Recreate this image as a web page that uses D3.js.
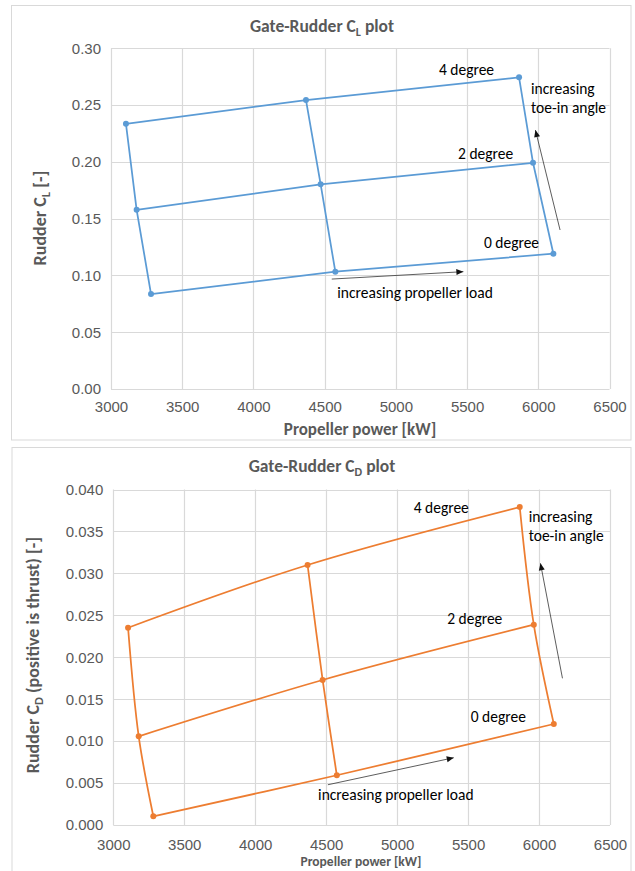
<!DOCTYPE html>
<html>
<head>
<meta charset="utf-8">
<script src="https://cdn.jsdelivr.net/npm/d3@7"></script>
<style>
  body { margin: 0; background: #fff; }
  svg { font-family: Carlito, Calibri, Lato, sans-serif; }
</style>
</head>
<body>
<div id="my_dataviz"></div>
<script>
'use strict';

// rows = toe-in angle (0, 2, 4 degree), columns = propeller load (low, mid, high)
const degreeLabels = ["0 degree", "2 degree", "4 degree"];
const powerTicks = [3000, 3500, 4000, 4500, 5000, 5500, 6000, 6500];

const clPower = [[3281, 4575, 6106], [3180, 4472, 5963], [3105, 4369, 5865]];
const clValue = [[0.0836, 0.1033, 0.1191], [0.1578, 0.1802, 0.1992], [0.2335, 0.2544, 0.2744]];
const clTicks = [0, 0.05, 0.10, 0.15, 0.20, 0.25, 0.30];

const cdPower = [[3282, 4575, 6104], [3179, 4475, 5963], [3104, 4369, 5864]];
const cdValue = [[0.00104, 0.00593, 0.01204], [0.01057, 0.01729, 0.02388], [0.02352, 0.0310, 0.0379]];
const cdTicks = [0, 0.005, 0.010, 0.015, 0.020, 0.025, 0.030, 0.035, 0.040];

var svg = d3.select("#my_dataviz")
  .append("svg")
    .attr("width", 635)
    .attr("height", 871);

var textColor = "#595959";
var gridColor = "#d9d9d9";
var noteSize = "15.5px";

function drawChart(c) {
  // outer chart frame
  svg.append("rect")
    .attr("x", c.frame[0]).attr("y", c.frame[1])
    .attr("width", c.frame[2]).attr("height", c.frame[3])
    .attr("fill", "#fff").attr("stroke", gridColor).attr("stroke-width", 1);

  var x = d3.scaleLinear().domain([3000, 6500]).range([c.left, c.right]);
  var y = d3.scaleLinear().domain([0, c.yMax]).range([c.bottom, c.top]);

  var g = svg.append("g");

  // grid
  g.selectAll(".vgrid").data(powerTicks).enter().append("line")
    .attr("x1", d => Math.round(x(d)) + 0.5).attr("x2", d => Math.round(x(d)) + 0.5)
    .attr("y1", c.top).attr("y2", c.bottom)
    .attr("stroke", gridColor).attr("stroke-width", 1.2);
  g.selectAll(".hgrid").data(c.yTicks).enter().append("line")
    .attr("x1", c.left).attr("x2", c.right)
    .attr("y1", d => Math.round(y(d)) + 0.5).attr("y2", d => Math.round(y(d)) + 0.5)
    .attr("stroke", gridColor).attr("stroke-width", 1.2);

  // axes (labels only, Excel style)
  var xAxis = g.append("g")
    .attr("transform", "translate(0," + c.bottom + ")")
    .call(d3.axisBottom(x).tickValues(powerTicks).tickSize(0).tickPadding(c.xPad).tickFormat(d3.format("d")));
  var yAxis = g.append("g")
    .attr("transform", "translate(" + c.left + ",0)")
    .call(d3.axisLeft(y).tickValues(c.yTicks).tickSize(0).tickPadding(c.yPad).tickFormat(d3.format(c.yFormat)));
  [xAxis, yAxis].forEach(a => {
    a.select(".domain").remove();
    a.selectAll("text").attr("fill", textColor).style("font-size", "15px");
  });

  // title
  var title = svg.append("text")
    .attr("x", c.titlePos[0]).attr("y", c.titlePos[1])
    .attr("text-anchor", "middle")
    .attr("fill", textColor).style("font-size", "17.5px").style("font-weight", "bold");
  title.append("tspan").text("Gate-Rudder C");
  title.append("tspan").attr("dy", 4).style("font-size", "12px").text(c.sub);
  title.append("tspan").attr("dy", -4).text(" plot");

  // axis titles
  svg.append("text")
    .attr("x", c.xLabelPos[0]).attr("y", c.xLabelPos[1])
    .attr("text-anchor", "middle").attr("fill", textColor)
    .style("font-size", c.xLabelSize).style("font-weight", "bold")
    .text("Propeller power [kW]");

  var yl = svg.append("text")
    .attr("transform", "translate(" + c.yLabelPos[0] + "," + c.yLabelPos[1] + ") rotate(-90)")
    .attr("text-anchor", "middle").attr("fill", textColor)
    .style("font-size", "18px").style("font-weight", "bold");
  yl.append("tspan").text("Rudder C");
  yl.append("tspan").attr("dy", 4).style("font-size", "12.5px").text(c.sub);
  yl.append("tspan").attr("dy", -4).text(c.yLabelRest);

  // series lines: one per toe-in angle, one per load
  var line = d3.line().x(d => x(d[0])).y(d => y(d[1])).curve(c.curve);
  var rows = c.power.map((r, i) => r.map((p, j) => [p, c.value[i][j]]));
  var cols = c.power[0].map((_, j) => c.power.map((r, i) => [r[j], c.value[i][j]]));

  g.selectAll(".series").data(rows.concat(cols)).enter().append("path")
    .attr("d", line)
    .attr("fill", "none").attr("stroke", c.color).attr("stroke-width", 1.75);

  g.selectAll(".pt").data(rows.flat()).enter().append("circle")
    .attr("cx", d => x(d[0])).attr("cy", d => y(d[1])).attr("r", 3)
    .attr("fill", c.color);

  // annotations
  g.selectAll(".deg").data(degreeLabels).enter().append("text")
    .attr("x", (d, i) => x(c.degPos[i][0])).attr("y", (d, i) => y(c.degPos[i][1]))
    .attr("dy", "0.35em").attr("text-anchor", "middle")
    .attr("fill", "#000").style("font-size", noteSize)
    .text(d => d);

  var toe = g.append("text")
    .attr("x", x(c.toePos[0])).attr("y", y(c.toePos[1]))
    .attr("fill", "#000").style("font-size", noteSize);
  toe.append("tspan").attr("x", x(c.toePos[0])).attr("dy", "0.35em").text("increasing");
  toe.append("tspan").attr("x", x(c.toePos[0])).attr("dy", c.toeGap).text("toe-in angle");

  g.append("text")
    .attr("x", x(c.loadPos[0])).attr("y", y(c.loadPos[1]))
    .attr("dy", "0.35em").attr("text-anchor", "middle")
    .attr("fill", "#000").style("font-size", noteSize)
    .text("increasing propeller load");

  [c.loadArrow, c.toeArrow].forEach(a => {
    var x1 = x(a[0][0]), y1 = y(a[0][1]), x2 = x(a[1][0]), y2 = y(a[1][1]);
    var ang = Math.atan2(y2 - y1, x2 - x1);
    g.append("line")
      .attr("x1", x1).attr("y1", y1).attr("x2", x2).attr("y2", y2)
      .attr("stroke", "#333").attr("stroke-width", 0.8);
    var hl = 7, hw = 3;
    var pts = [
      [x2, y2],
      [x2 - hl * Math.cos(ang) + hw * Math.sin(ang), y2 - hl * Math.sin(ang) - hw * Math.cos(ang)],
      [x2 - hl * Math.cos(ang) - hw * Math.sin(ang), y2 - hl * Math.sin(ang) + hw * Math.cos(ang)]
    ];
    g.append("polygon").attr("points", pts.map(p => p.join(",")).join(" ")).attr("fill", "#111");
  });
}

drawChart({
  frame: [11.5, 5.5, 619.5, 434.5],
  left: 111, right: 609.5, top: 48.3, bottom: 389,
  yMax: 0.30, yTicks: clTicks, yFormat: ".2f",
  xPad: 12, yPad: 10,
  power: clPower, value: clValue,
  color: "#5b9bd5", curve: d3.curveLinear,
  sub: "L", yLabelRest: " [-]",
  titlePos: [322, 32], xLabelPos: [360, 435], xLabelSize: "17px", yLabelPos: [46, 218],
  degPos: [[5812, 0.1285], [5630, 0.2077], [5496, 0.2817]],
  toePos: [5949, 0.2641], toeGap: 19,
  loadPos: [5135, 0.0845],
  loadArrow: [[4550, 0.0968], [5474, 0.1033]],
  toeArrow: [[6153, 0.140], [5980, 0.228]]
});

drawChart({
  frame: [12, 447.5, 619, 430],
  left: 113.3, right: 610, top: 489.5, bottom: 825,
  yMax: 0.040, yTicks: cdTicks, yFormat: ".3f",
  xPad: 14, yPad: 10,
  power: cdPower, value: cdValue,
  color: "#ed7d31", curve: d3.curveCatmullRom,
  sub: "D", yLabelRest: " (positive is thrust) [-]",
  titlePos: [322, 472], xLabelPos: [361, 866], xLabelSize: "13.5px", yLabelPos: [39, 655],
  degPos: [[5713, 0.01288], [5547, 0.02456], [5311, 0.03779]],
  toePos: [5927, 0.03672], toeGap: 19,
  loadPos: [4991, 0.00358],
  loadArrow: [[4512, 0.0048], [5399, 0.00802]],
  toeArrow: [[6165, 0.01749], [6010, 0.0312]]
});
</script>
</body>
</html>
